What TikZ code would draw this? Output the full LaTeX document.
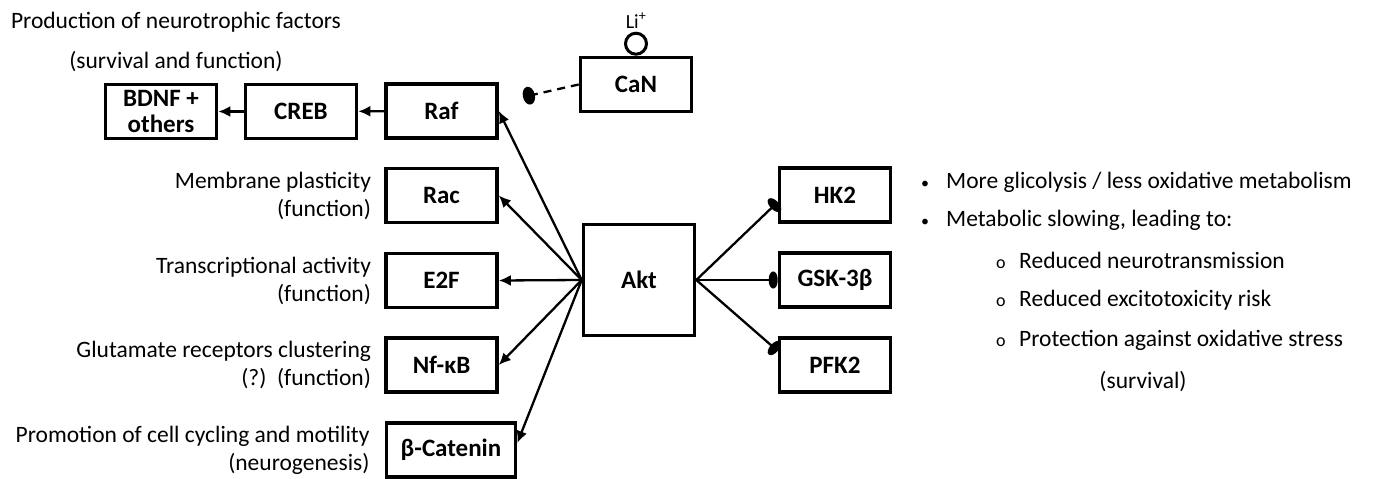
\documentclass[tikz,border=0pt]{standalone}
\usepackage{fontspec}
\setmainfont{Carlito}
\usepackage{tikz}
\usetikzlibrary{arrows.meta}
\usetikzlibrary{positioning}

\newcommand{\bulpt}{\makebox[25pt][l]{\fontsize{16}{20}\selectfont•}}
\newcommand{\subpt}{\makebox[23pt][l]{\fontsize{18}{20}\selectfont o}}

\begin{document}
\begin{tikzpicture}[x=1pt, y=-1pt,
    box/.style={draw, line width=3.6pt, inner sep=0pt, minimum width=111pt, minimum height=54pt,
        align=center, font=\fontsize{25}{26}\selectfont\bfseries},
    lbl/.style={inner sep=0pt, font=\fontsize{23.5}{28}\selectfont},
    act/.style={line width=2.3pt, -{Latex[length=12pt, width=11pt]}},
    inh/.style={line width=2.3pt, -{Ellipse[length=9pt, width=17pt]}}]
    \useasboundingbox (0, 0) rectangle (1377, 479);

    % boxes
    \node[box] (bdnf) at (161, 111.5) {BDNF +\\others};
    \node[box] (creb) at (301, 111.5) {CREB};
    \node[box] (raf) at (441.5, 111) {Raf};
    \node[box] (can) at (636, 84.5) {CaN};
    \node[box] (rac) at (441.5, 195.5) {Rac};
    \node[box] (etwof) at (441.5, 280.5) {E2F};
    \node[box] (nfkb) at (441.5, 365) {Nf-κB};
    \node[box, minimum width=129pt] (bcat) at (451, 450) {β-Catenin};
    \node[box, minimum height=111pt] (akt) at (639, 280) {Akt};
    \node[box] (hk) at (835, 195) {HK2};
    \node[box] (gsk) at (835, 280) {GSK-3β};
    \node[box] (pfk) at (835, 365) {PFK2};

    \node[draw, circle, line width=3pt, inner sep=0pt, minimum size=21pt, anchor=south] (li) at (can.north) {};
    \node[inner sep=0pt, font=\fontsize{20}{22}\selectfont, above=3pt of li] (lilbl) {Li\textsuperscript{+}};
    \coordinate (rafdot) at (523, 97);

    % connectors
    \draw[act] (creb) -- (bdnf);
    \draw[act] (raf) -- (creb);
    \draw[inh, dash pattern=on 8pt off 6pt, -{Ellipse[length=12pt, width=18pt]}] (can.west) -- (rafdot);
    \draw[act] (akt.west) -- (raf.east);
    \draw[act] (akt.west) -- (rac.east);
    \draw[act] (akt.west) -- (etwof.east);
    \draw[act] (akt.west) -- (nfkb.east);
    \draw[act] (akt.west) -- ([yshift=7pt]bcat.east);
    \draw[inh] (akt.east) -- ([yshift=-7pt]hk.west);
    \draw[inh] (akt.east) -- (gsk.west);
    \draw[inh] (akt.east) -- ([yshift=14pt]pfk.west);

    % left notes
    \node[lbl] (prod) at (176, 22) {Production of neurotrophic factors};
    \node[lbl] (surv) at (176, 62) {(survival and function)};
    \node[lbl, align=right, anchor=east, left=13pt of rac] (racnote) {Membrane plasticity\\(function)};
    \node[lbl, align=right, anchor=east, left=13pt of etwof] (etwofnote) {Transcriptional activity\\(function)};
    \node[lbl, align=right, anchor=east, left=13pt of nfkb] (nfkbnote) {Glutamate receptors clustering\\(?)~~(function)};
    \node[lbl, align=right, anchor=east, left=15pt of bcat] (bcatnote) {Promotion of cell cycling and motility\\(neurogenesis)};

    % right notes
    \node[lbl, anchor=west] (glyc) at (921, 182) {\bulpt More glicolysis / less oxidative metabolism};
    \node[lbl, anchor=west] (slow) at (921, 220) {\bulpt Metabolic slowing, leading to:};
    \node[lbl, anchor=west] (neuro) at (996, 260) {\subpt Reduced neurotransmission};
    \node[lbl, anchor=west] (exci) at (996, 300) {\subpt Reduced excitotoxicity risk};
    \node[lbl, anchor=west] (prot) at (996, 340) {\subpt Protection against oxidative stress};
    \node[lbl] (survr) at (1143, 382) {(survival)};
\end{tikzpicture}
\end{document}
